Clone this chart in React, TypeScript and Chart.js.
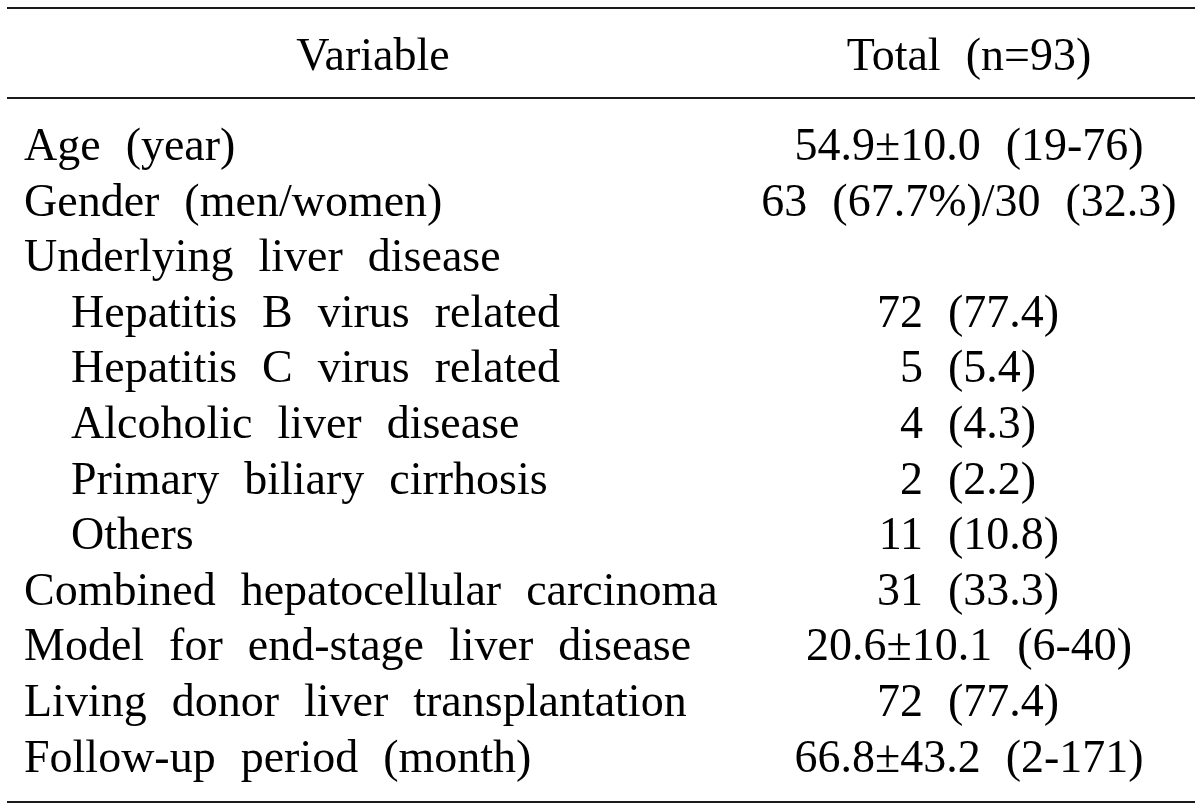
import React, { useEffect, useRef } from "react";
import { Chart, registerables } from "chart.js";

Chart.register(...registerables);

// ---- Table content ----
const headerVariable = "Variable";
const headerTotal = "Total (n=93)";

const variables = [
  "Age (year)",
  "Gender (men/women)",
  "Underlying liver disease",
  "Hepatitis B virus related",
  "Hepatitis C virus related",
  "Alcoholic liver disease",
  "Primary biliary cirrhosis",
  "Others",
  "Combined hepatocellular carcinoma",
  "Model for end-stage liver disease",
  "Living donor liver transplantation",
  "Follow-up period (month)",
];

// 0 = main row, 1 = indented sub-row
const levels = [0, 0, 0, 1, 1, 1, 1, 1, 0, 0, 0, 0];

const totals = [
  "54.9±10.0 (19-76)",
  "63 (67.7%)/30 (32.3)",
  "",
  "72 (77.4)",
  "5 (5.4)",
  "4 (4.3)",
  "2 (2.2)",
  "11 (10.8)",
  "31 (33.3)",
  "20.6±10.1 (6-40)",
  "72 (77.4)",
  "66.8±43.2 (2-171)",
];

const tablePlugin = {
  id: "tableText",
  afterDatasetsDraw(chart: any, _args: any, opts: any) {
    const ctx: CanvasRenderingContext2D = chart.ctx;
    const meta = chart.getDatasetMeta(0);
    const xs = chart.scales.x;
    const gap = opts.wordGap;
    ctx.save();
    ctx.font = `${opts.fontSize}px "Liberation Serif", "Times New Roman", serif`;
    ctx.textAlign = "left";
    ctx.textBaseline = "alphabetic";

    const widthOf = (text: string) => {
      const words = text.split(" ");
      let w = 0;
      words.forEach((wd, k) => {
        w += ctx.measureText(wd).width + (k < words.length - 1 ? gap : 0);
      });
      return w;
    };
    const draw = (text: string, x: number, y: number, align: string) => {
      const w = widthOf(text);
      let x0 = x;
      if (align === "center") x0 = x - w / 2;
      else if (align === "right") x0 = x - w;
      text.split(" ").forEach((wd) => {
        ctx.fillText(wd, x0, y);
        x0 += ctx.measureText(wd).width + gap;
      });
    };

    // rules
    ctx.fillStyle = opts.ruleColor;
    const rl = xs.getPixelForValue(opts.ruleLeft);
    const rr = xs.getPixelForValue(opts.ruleRight);
    const firstY = meta.data[0].y;
    const lastY = meta.data[meta.data.length - 1].y;
    const ruleYs = [firstY + opts.topRuleOffset, firstY + opts.headRuleOffset, lastY + opts.bottomRuleOffset];
    ruleYs.forEach((y) => ctx.fillRect(rl, Math.round(y) - 1, rr - rl, 2));

    ctx.fillStyle = opts.color;
    // header
    const hy = firstY + opts.headerBaselineOffset;
    draw(headerVariable, xs.getPixelForValue(opts.varCenter), hy, "center");
    draw(headerTotal, xs.getPixelForValue(opts.totalCenter), hy, "center");

    // rows
    meta.data.forEach((pt: any, i: number) => {
      const y = pt.y + opts.baselineOffset;
      const lx = xs.getPixelForValue(levels[i] ? opts.indentX : opts.leftX);
      draw(variables[i], lx, y, "left");
      const t = totals[i];
      if (!t) return;
      const m = t.match(/^(\d+) (\([\d.]+\))$/);
      if (m) {
        draw(m[1], xs.getPixelForValue(opts.countRight), y, "right");
        draw(m[2], xs.getPixelForValue(opts.parenLeft), y, "left");
      } else {
        draw(t, xs.getPixelForValue(opts.totalCenter), y, "center");
      }
    });
    ctx.restore();
  },
};

export default function App() {
  const ref = useRef<HTMLCanvasElement | null>(null);
  useEffect(() => {
    if (!ref.current) return;
    const chart = new Chart(ref.current, {
      type: "scatter",
      data: {
        datasets: [
          {
            data: variables.map((v) => ({ x: 600, y: v })) as any,
            pointRadius: 0,
            pointHoverRadius: 0,
            showLine: false,
          },
        ],
      },
      options: {
        animation: false,
        responsive: false,
        devicePixelRatio: 1,
        events: [],
        layout: { padding: { top: 118.2, bottom: 25.6, left: 0, right: 0 } },
        scales: {
          x: { type: "linear", min: 0, max: 1200, display: false },
          y: { type: "category", labels: variables, offset: true, display: false },
        },
        plugins: {
          legend: { display: false },
          tooltip: { enabled: false },
          tableText: {
            fontSize: 46,
            wordGap: 25,
            color: "#000",
            ruleColor: "#1a1a1a",
            ruleLeft: 7,
            ruleRight: 1195,
            topRuleOffset: -138,
            headRuleOffset: -48,
            bottomRuleOffset: 44.4,
            headerBaselineOffset: -76,
            baselineOffset: 14,
            leftX: 24,
            indentX: 71,
            varCenter: 373,
            totalCenter: 969,
            countRight: 923,
            parenLeft: 948,
          },
        } as any,
      },
      plugins: [tablePlugin],
    });
    return () => chart.destroy();
  }, []);
  return (
    <div style={{ position: "absolute", left: 0, top: 0, width: 1200, height: 811, background: "#fff" }}>
      <canvas ref={ref} width={1200} height={811} style={{ display: "block" }} />
    </div>
  );
}
